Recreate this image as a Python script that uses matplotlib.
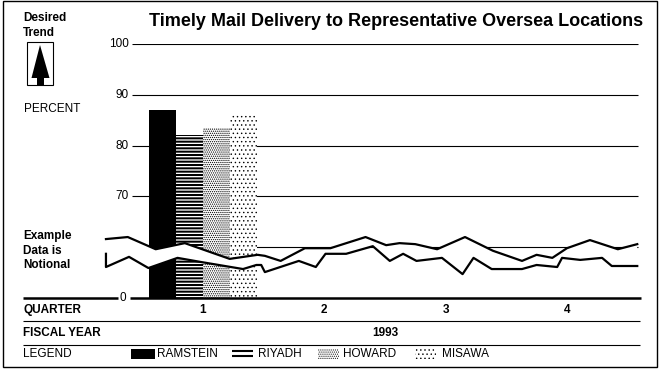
import numpy as np
import matplotlib
matplotlib.use('Agg')
import matplotlib.pyplot as plt
from matplotlib.patches import Rectangle, Polygon

plt.rcParams['font.family'] = ['Liberation Sans', 'DejaVu Sans']
plt.rcParams['hatch.color'] = 'black'

W, H = 663, 371

# bars (quarter 1 only)
sites = ['RAMSTEIN', 'RIYADH', 'HOWARD', 'MISAWA']
bar_pct = [87, 82, 83.5, 86]
bar_face = ['black', 'white', 'white', 'white']
bar_hatch = [None, '-----', '........', '....']
bar_hatch_lw = [1.0, 1.45, 0.6, 0.5]

# notional data lines, x in quarters
upper_q = [0.20, 0.38, 0.61, 0.85, 1.22, 1.45, 1.51, 1.64, 1.84, 2.05, 2.34, 2.51,
           2.62, 2.75, 2.93, 3.16, 3.39, 3.63, 3.75, 3.88, 4.00, 4.19, 4.42, 4.58]
upper_pct = [61.6, 62.0, 59.6, 60.8, 57.7, 58.5, 58.3, 57.3, 59.8, 59.8, 62.0, 60.4,
             60.8, 60.6, 59.6, 62.0, 59.3, 57.3, 58.5, 57.9, 59.8, 61.4, 59.6, 60.6]
lower_q = [0.20, 0.20, 0.39, 0.55, 0.79, 0.98, 1.33, 1.44, 1.48, 1.51, 1.79, 1.93,
           2.01, 2.18, 2.40, 2.54, 2.65, 2.76, 2.97, 3.14, 3.23, 3.38, 3.63, 3.75,
           3.92, 3.96, 4.11, 4.29, 4.37, 4.58]
lower_pct = [58.7, 56.1, 58.1, 55.9, 57.9, 57.1, 55.7, 56.5, 56.5, 55.1, 57.3, 56.1,
             58.7, 58.7, 60.2, 57.3, 58.7, 57.3, 57.9, 54.7, 57.9, 55.7, 55.7, 56.5,
             56.1, 57.9, 57.5, 57.9, 56.3, 56.3]

quarters = [1, 2, 3, 4]
ytick_vals = [100, 90, 80, 70]
grid_vals = [100, 90, 80, 70, 60]
fiscal_year = '1993'


def q_of(px):
    # pixel column -> quarter units
    return 1 + (px - 203) / 121.3


fig = plt.figure(figsize=(W / 100, H / 100), dpi=100)
ax = fig.add_axes([23 / W, (H - 298) / H, (641 - 23) / W, (298 - 44) / H])
ax.set_xlim(q_of(23), q_of(641))
ax.set_ylim(50, 100)  # broken axis: bottom is shown as 0
for s in ax.spines.values():
    s.set_visible(False)
ax.set_yticks([])
ax.set_xticks(quarters)
ax.set_xticklabels([str(q) for q in quarters], fontweight='bold', fontsize=8.5)
ax.tick_params(axis='x', length=0, pad=4)

# grid and broken baseline
ax.hlines(grid_vals, q_of(132), q_of(638), color='black', lw=0.8, zorder=1)
ax.hlines(50, q_of(23), q_of(118), color='black', lw=1.8, zorder=5, clip_on=False)
ax.hlines(50, q_of(130), q_of(641), color='black', lw=1.8, zorder=5, clip_on=False)
for v in ytick_vals:
    ax.text(q_of(129), v, str(v), ha='right', va='center', fontsize=8.5)
ax.text(q_of(123), 50, '0', ha='center', va='center', fontsize=8.5)

# bars in quarter 1
bw = 0.2226
offs = (np.arange(len(sites)) - 1.5) * bw
for i in range(len(sites)):
    with plt.rc_context({'hatch.linewidth': bar_hatch_lw[i]}):
        b = ax.bar(1 + offs[i], bar_pct[i], width=bw, color=bar_face[i],
                   edgecolor='black', linewidth=0, hatch=bar_hatch[i], zorder=2)
    for p in b:
        if hasattr(p, 'set_hatch_linewidth'):
            p.set_hatch_linewidth(bar_hatch_lw[i])

# white band between the two lines, then the lines
band_x = np.concatenate([upper_q, lower_q[::-1]])
band_y = np.concatenate([upper_pct, lower_pct[::-1]])
ax.fill(band_x, band_y, color='white', lw=0, zorder=3, clip_on=False)
ax.plot(upper_q, upper_pct, color='black', lw=1.6, zorder=4, clip_on=False)
ax.plot(lower_q, lower_pct, color='black', lw=1.6, zorder=4, clip_on=False)

ax.text(np.mean(quarters), (298 - 333) / 254, fiscal_year, transform=ax.get_xaxis_transform(),
        ha='center', va='center', fontweight='bold', fontsize=8.5)

# overlay in pixel coords for labels and decoration
ov = fig.add_axes([0, 0, 1, 1])
ov.set_xlim(0, W)
ov.set_ylim(H, 0)
ov.axis('off')

ov.add_patch(Rectangle((3, 1), 654, 366, fill=False, lw=1, ec='black'))
ov.text(396, 22, 'Timely Mail Delivery to Representative Oversea Locations',
        ha='center', va='center', fontweight='bold', fontsize=13)
ov.text(23, 18, 'Desired', ha='left', va='center', fontweight='bold', fontsize=8.5)
ov.text(23, 33, 'Trend', ha='left', va='center', fontweight='bold', fontsize=8.5)
ov.add_patch(Rectangle((27, 42), 26, 43, fill=False, lw=0.8, ec='black'))
ov.add_patch(Polygon([(40, 45), (31.5, 78), (49.5, 78)], closed=True, fc='black', ec='none'))
ov.add_patch(Rectangle((36.5, 78), 7, 7, fc='black', ec='none'))
ov.text(24, 109, 'PERCENT', ha='left', va='center', fontsize=8.5)
for yy, t in zip([236, 251, 265], ['Example', 'Data is', 'Notional']):
    ov.text(23, yy, t, ha='left', va='center', fontweight='bold', fontsize=8.5)

ov.text(23, 310, 'QUARTER', ha='left', va='center', fontweight='bold', fontsize=8.5)
ov.hlines([321, 345], 23, 640, color='black', lw=0.8)
ov.text(23, 333, 'FISCAL YEAR', ha='left', va='center', fontweight='bold', fontsize=8.5)
ov.text(23, 354, 'LEGEND', ha='left', va='center', fontsize=8.5)

# legend keys
ov.add_patch(Rectangle((131, 349), 24, 10, fc='black', ec='none'))
ov.hlines([351, 356], 232, 253, color='black', lw=1.5)
with plt.rc_context({'hatch.linewidth': 0.5}):
    k1 = Rectangle((318, 349), 21, 10, fc='white', ec='black', lw=0, hatch='........')
    k2 = Rectangle((415, 349), 21, 10, fc='white', ec='black', lw=0, hatch='....')
for k in (k1, k2):
    if hasattr(k, 'set_hatch_linewidth'):
        k.set_hatch_linewidth(0.5)
    ov.add_patch(k)
for xx, t in zip([157, 258, 343, 442], sites):
    ov.text(xx, 354, t, ha='left', va='center', fontsize=8.5)

fig.savefig('out.png', dpi=100)
